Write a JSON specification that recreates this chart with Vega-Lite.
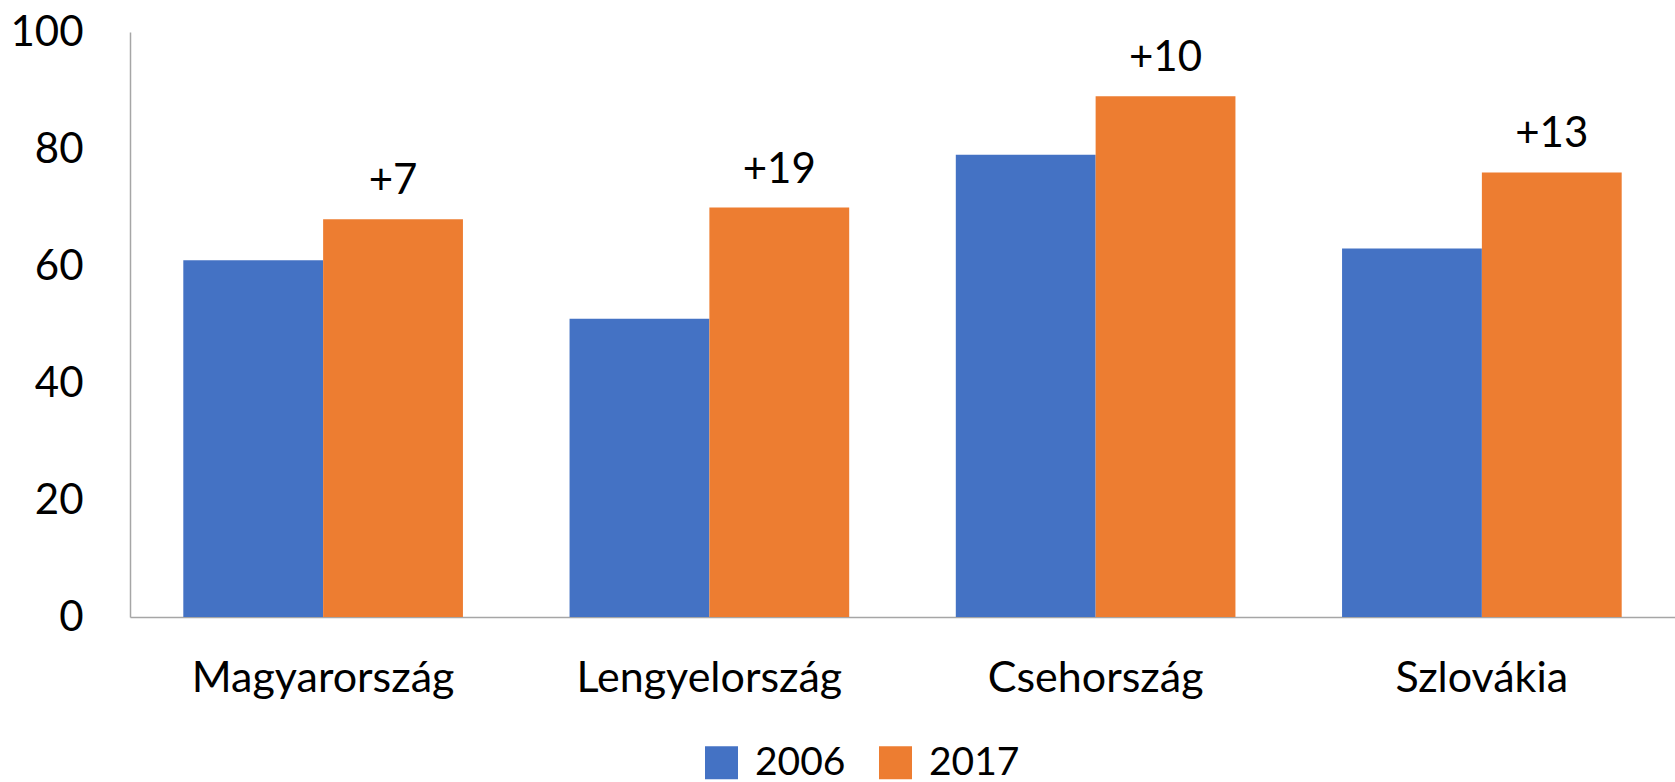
{
  "$schema": "https://vega.github.io/schema/vega-lite/v6.json",
  "autosize": {"type": "none"},
  "width": 1545,
  "height": 585,
  "padding": {"left": 130, "top": 32, "right": 0, "bottom": 165},
  "background": "white",
  "config": {
    "view": {"stroke": null},
    "font": "Lato",
    "axis": {"labelFont": "Lato", "labelColor": "#000000", "labelFontSize": 42, "domainColor": "#a6a6a6", "domainWidth": 1.5, "ticks": false, "tickSize": 0, "grid": false, "title": null, "labelLimit": 0},
    "legend": {"labelFont": "Lato", "labelFontSize": 39, "labelColor": "#000000", "labelLimit": 0}
  },
  "data": {
    "values": [
      {"country": "Magyarország", "year": "2006", "value": 61, "label": ""},
      {"country": "Magyarország", "year": "2017", "value": 68, "label": "+7"},
      {"country": "Lengyelország", "year": "2006", "value": 51, "label": ""},
      {"country": "Lengyelország", "year": "2017", "value": 70, "label": "+19"},
      {"country": "Csehország", "year": "2006", "value": 79, "label": ""},
      {"country": "Csehország", "year": "2017", "value": 89, "label": "+10"},
      {"country": "Szlovákia", "year": "2006", "value": 63, "label": ""},
      {"country": "Szlovákia", "year": "2017", "value": 76, "label": "+13"}
    ]
  },
  "encoding": {
    "x": {
      "field": "country", "type": "nominal", "sort": null,
      "scale": {"paddingInner": 0.276, "paddingOuter": 0.138},
      "axis": {"labelAngle": 0, "labelPadding": 40, "labelFontSize": 43}
    },
    "xOffset": {"field": "year", "type": "nominal", "scale": {"paddingInner": 0, "paddingOuter": 0}},
    "y": {
      "field": "value", "type": "quantitative",
      "scale": {"domain": [0, 100], "nice": false},
      "axis": {"values": [0, 20, 40, 60, 80, 100], "labelPadding": 47}
    }
  },
  "layer": [
    {
      "mark": {"type": "bar"},
      "encoding": {
        "color": {
          "field": "year", "type": "nominal",
          "scale": {"domain": ["2006", "2017"], "range": ["#4472C4", "#ED7D31"]},
          "legend": {
            "title": null, "orient": "none", "direction": "horizontal",
            "legendX": 572, "legendY": 711,
            "symbolType": "square", "symbolSize": 1089, "symbolStrokeWidth": 0,
            "labelOffset": 14, "columnPadding": 30
          }
        }
      }
    },
    {
      "transform": [{"filter": "datum.year === '2017'"}],
      "mark": {"type": "text", "baseline": "middle", "align": "center", "dy": -38, "fontSize": 42, "font": "Lato", "color": "#000000"},
      "encoding": {
        "text": {"field": "label", "type": "nominal"}
      }
    }
  ]
}
